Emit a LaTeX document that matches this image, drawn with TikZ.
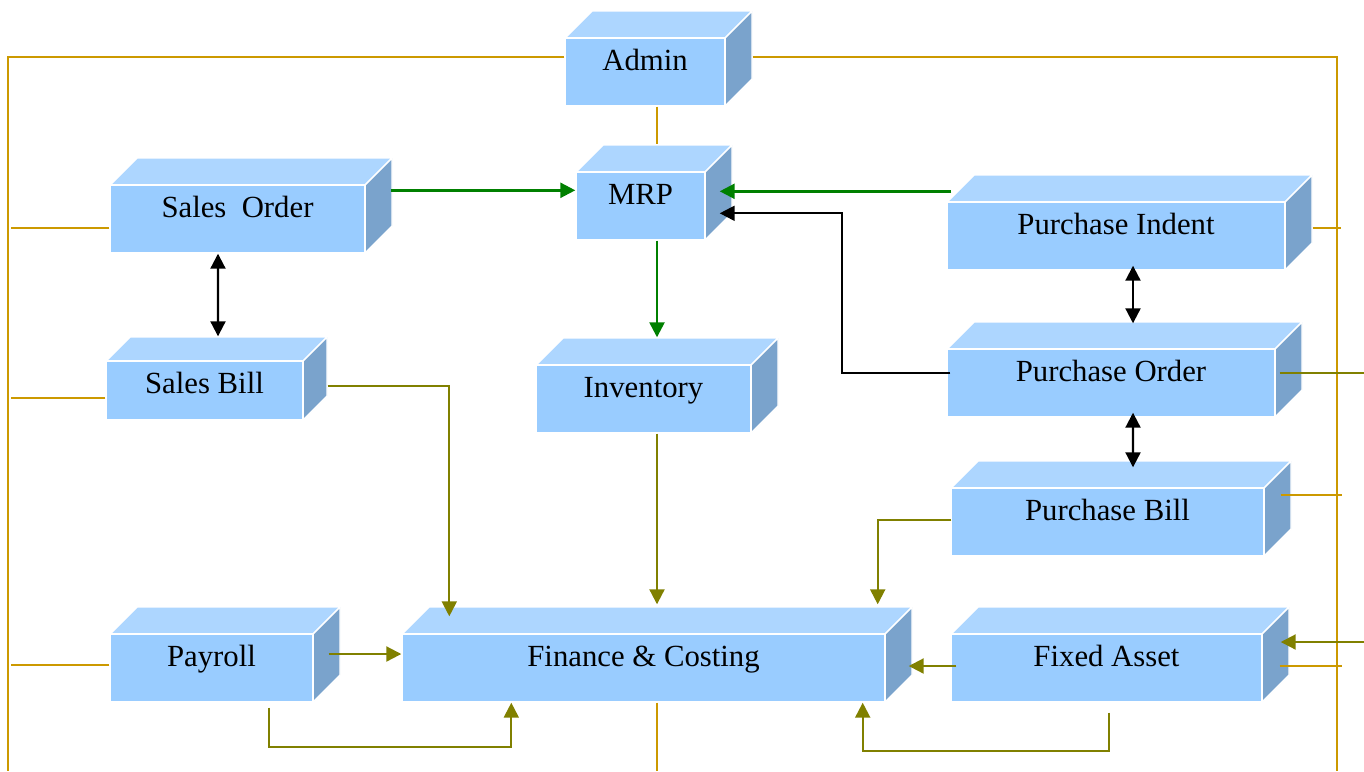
\documentclass[tikz,border=0pt]{standalone}
\usepackage{fontspec}
\setmainfont{Liberation Serif}
\usetikzlibrary{arrows.meta,calc,fit}

\definecolor{frontblue}{RGB}{153,204,255}
\definecolor{topblue}{RGB}{173,214,255}
\definecolor{sideblue}{RGB}{122,163,204}
\definecolor{busgold}{RGB}{204,153,0}
\definecolor{flowolive}{RGB}{128,128,0}
\definecolor{flowgreen}{RGB}{0,128,0}

\tikzset{
  topface/.style={fill=topblue,draw=white,line width=0.8pt},
  sideface/.style={fill=sideblue,draw=white,line width=0.8pt},
  frontface/.style={fill=frontblue,draw=white,line width=0.8pt,inner sep=0pt},
  boxtext/.style={anchor=base,font=\fontsize{17.5}{20}\selectfont},
  bus/.style={draw=busgold,line width=1pt},
  oflow/.style={draw=flowolive,line width=1.2pt},
  gflow/.style={draw=flowgreen,line width=1.4pt},
  kflow/.style={draw=black,line width=1.2pt},
  tip/.style={-{Triangle[length=0.3cm,width=0.3cm]}},
  twotip/.style={{Triangle[length=0.3cm,width=0.3cm]}-{Triangle[length=0.3cm,width=0.3cm]}}
}

% 3d box: [depth] name, left, top, right, bottom, text
\newcommand{\erpbox}[7][27]{%
  \path[topface] (#3,#4) -- ++(#1,-#1) -- (#5+#1,#4-#1) -- (#5,#4) -- cycle;
  \path[sideface] (#5,#4) -- (#5+#1,#4-#1) -- (#5+#1,#6-#1) -- (#5,#6) -- cycle;
  \node[frontface,fit={(#3,#4) (#5,#6)}] (#2) {};
  \node[boxtext] (#2-txt) at ({(#3+#5)/2},#4+32) {#7};
}

\begin{document}
\begin{tikzpicture}[x=0.02cm,y=-0.02cm]
  \useasboundingbox (0,0) rectangle (1364,771);

  \erpbox{adm}{565}{38}{725}{106}{Admin}
  \erpbox{mrp}{576}{172}{705}{240}{MRP}
  \erpbox{so}{110}{185}{365}{253}{Sales\ \ Order}
  \erpbox[24]{sb}{106}{361}{303}{420}{Sales Bill}
  \erpbox{inv}{536}{365}{751}{433}{Inventory}
  \erpbox{pi}{947}{202}{1285}{270}{Purchase Indent}
  \erpbox{po}{947}{349}{1275}{417}{Purchase Order}
  \erpbox{pb}{951}{488}{1264}{556}{Purchase Bill}
  \erpbox{pay}{110}{634}{313}{702}{Payroll}
  \erpbox{fin}{402}{634}{885}{702}{Finance \& Costing}
  \erpbox{fa}{951}{634}{1262}{702}{Fixed Asset}

  \coordinate (spine) at (657,0);
  \coordinate (busL) at (8,771);
  \coordinate (busR) at (1337,771);
  \coordinate (poOut) at (1364,373);
  \coordinate (faIn) at (1364,642);

  % common bus
  \draw[bus] ($(adm.north west)+(0,20)$) -| (busL);
  \draw[bus] ($(adm.north east)+(27,20)$) -| (busR);
  \draw[bus] (adm.south -| spine) -- ($(mrp.north -| spine)+(0,-27)$);
  \draw[bus] (fin.south -| spine) -- (spine |- busL);
  \draw[bus] ($(so.west)+(0,9)$) -- ++(-98,0);
  \draw[bus] ($(sb.west)+(0,7.5)$) -- ++(-94,0);
  \draw[bus] ($(pay.west)+(0,-3)$) -- ++(-98,0);
  \draw[bus] ($(pi.east)+(27,-8)$) -- ++(28,0);
  \draw[bus] ($(pb.east)+(16,-27)$) -- ++(61,0);
  \draw[bus] ($(fa.east)+(17,-2)$) -- ++(62,0);

  % MRP flows
  \draw[gflow,tip] ($(so.north east)+(25,6)$) -- ($(mrp.north west)+(0,19)$);
  \draw[gflow,tip] ($(pi.north west)+(5,-10)$) -- ($(mrp.north east)+(14,20)$);
  \draw[gflow,tip] (mrp.south -| spine) -- ($(inv.north -| spine)+(0,-27)$);
  \draw[kflow,tip] ($(po.west)+(4,-10)$) -| ($(mrp.north east)+(136,42)$) -- ($(mrp.north east)+(14,42)$);

  \draw[kflow,twotip] ($(so.south)+(-19.5,0)$) -- ($(sb.north)+(13.5,-24)$);
  \draw[kflow,twotip] ($(pi.south)+(17,-5)$) -- ($(po.north)+(22,-25)$);
  \draw[kflow,twotip] ($(po.south)+(22,-5)$) -- ($(pb.north)+(25.5,-20)$);

  % into finance
  \draw[oflow,tip] ($(sb.east)+(24,-4.5)$) -| ($(fin.north west)+(48,-17)$);
  \draw[oflow,tip] (inv.south -| spine) -- ($(fin.north -| spine)+(0,-29)$);
  \draw[oflow,tip] ($(pb.west)+(1,-2)$) -| ($(fin.north east)+(-8,-29)$);
  \draw[oflow,tip] ($(pay.east)+(15,-14)$) -- ($(fin.west)+(0,-14)$);
  \draw[oflow,tip] ($(pay.south)+(57.5,5)$) -- ++(0,39) -| ($(fin.south west)+(110,0)$);
  \draw[oflow,tip] ($(fa.south)+(2.5,10)$) -- ++(0,38) -| ($(fin.south east)+(-23,0)$);
  \draw[oflow,tip] ($(fa.west)+(6,-2)$) -- ($(fin.east)+(23,-2)$);
  \draw[oflow] ($(po.east)+(4,-10)$) -- (poOut);
  \draw[oflow,tip] (faIn) -- ($(fa.east)+(18,-26)$);
\end{tikzpicture}
\end{document}
